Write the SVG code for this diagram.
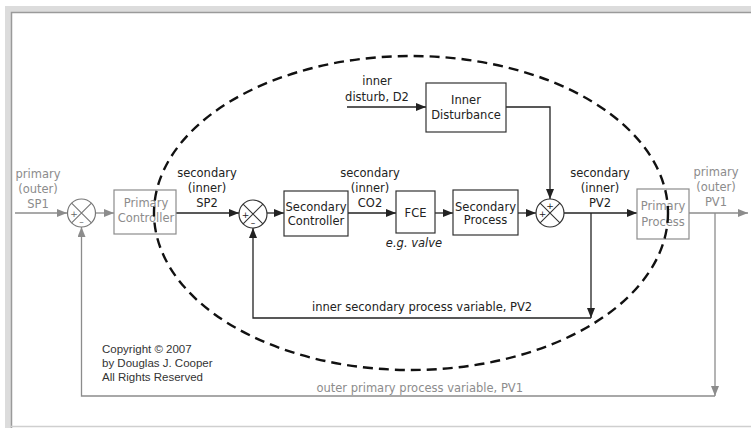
<svg xmlns="http://www.w3.org/2000/svg" width="751" height="428" viewBox="0 0 751 428">
  <style>
    .t { font-family: "DejaVu Sans", Verdana, sans-serif; font-size: 11.5px; fill: #222; text-anchor: middle; }
    .t.start { text-anchor: start; }
    .t.end { text-anchor: end; }
    .g { fill: #8c8c8c; }
    .box { fill: #fff; stroke: #333; stroke-width: 1.2; }
    .gbox { fill: #fff; stroke: #8c8c8c; stroke-width: 1.2; }
    .ln { fill: none; stroke: #222; stroke-width: 1.3; }
    .gln { fill: none; stroke: #8c8c8c; stroke-width: 1.3; }
    .sum { fill: #fff; stroke: #333; stroke-width: 1.2; }
    .gsum { fill: #fff; stroke: #777; stroke-width: 1.2; }
    .sg { font-family: "DejaVu Sans", sans-serif; font-size: 9px; text-anchor: middle; }
    .copy { font-family: "Liberation Sans", Arial, sans-serif; font-size: 11.5px; fill: #333; }
  </style>
  <defs>
    <marker id="ah" viewBox="0 0 10 8" refX="10" refY="4" markerWidth="10" markerHeight="8" markerUnits="userSpaceOnUse" orient="auto">
      <path d="M0,0 L10,4 L0,8 Z" fill="#222"/>
    </marker>
    <marker id="gah" viewBox="0 0 10 8" refX="10" refY="4" markerWidth="10" markerHeight="8" markerUnits="userSpaceOnUse" orient="auto">
      <path d="M0,0 L10,4 L0,8 Z" fill="#8c8c8c"/>
    </marker>
  </defs>

  <!-- window frame -->
  <rect x="0" y="0" width="751" height="428" fill="#fff"/>
  <rect x="5" y="6" width="746" height="6" fill="#dcdcdc"/>
  <rect x="5" y="6" width="6" height="422" fill="#dcdcdc"/>
  <path d="M11.5,428 V12.5 H751" fill="none" stroke="#9a9a9a" stroke-width="1.5"/>
  <line x1="11" y1="426.5" x2="751" y2="426.5" stroke="#cfcfcf" stroke-width="1.5"/>

  <!-- connectors -->
  <g id="connectors">
    <line class="gln" x1="15" y1="213" x2="67" y2="213" marker-end="url(#gah)"/>
    <line class="gln" x1="96" y1="213" x2="114" y2="213" marker-end="url(#gah)"/>
    <line class="ln" x1="176" y1="213" x2="239" y2="213" marker-end="url(#ah)"/>
    <line class="ln" x1="267" y1="213" x2="284" y2="213" marker-end="url(#ah)"/>
    <line class="ln" x1="348" y1="213" x2="396" y2="213" marker-end="url(#ah)"/>
    <line class="ln" x1="435" y1="213" x2="453" y2="213" marker-end="url(#ah)"/>
    <line class="ln" x1="518" y1="213" x2="536" y2="213" marker-end="url(#ah)"/>
    <line class="ln" x1="564" y1="213" x2="637" y2="213" marker-end="url(#ah)"/>
    <line class="gln" x1="689" y1="213" x2="748" y2="213" marker-end="url(#gah)"/>
    <!-- inner disturbance path -->
    <line class="ln" x1="347" y1="107" x2="426" y2="107" marker-end="url(#ah)"/>
    <polyline class="ln" points="506,107 550,107 550,199" marker-end="url(#ah)"/>
    <!-- inner feedback PV2 -->
    <line class="ln" x1="591" y1="213" x2="591" y2="318" marker-end="url(#ah)"/>
    <polyline class="ln" points="591,318 253,318 253,228" marker-end="url(#ah)"/>
    <!-- outer feedback PV1 -->
    <line class="gln" x1="715" y1="213" x2="715" y2="396" marker-end="url(#gah)"/>
    <polyline class="gln" points="715,396 81.5,396 81.5,227" marker-end="url(#gah)"/>
  </g>

  <!-- summing junctions -->
  <g id="sum1">
    <circle class="gsum" cx="81.5" cy="213" r="14"/>
    <path d="M71.6,203.1 L91.4,222.9 M91.4,203.1 L71.6,222.9" stroke="#777" stroke-width="1.1"/>
    <text class="sg" x="74" y="216.5" fill="#666">+</text>
    <text class="sg" x="81.5" y="225" fill="#666">–</text>
  </g>
  <g id="sum2">
    <circle class="sum" cx="253" cy="214" r="14"/>
    <path d="M243.1,204.1 L262.9,223.9 M262.9,204.1 L243.1,223.9" stroke="#333" stroke-width="1.1"/>
    <text class="sg" x="245.5" y="217.5" fill="#222">+</text>
    <text class="sg" x="253" y="226" fill="#222">–</text>
  </g>
  <g id="sum3">
    <circle class="sum" cx="550" cy="213" r="14"/>
    <path d="M540.1,203.1 L559.9,222.9 M559.9,203.1 L540.1,222.9" stroke="#333" stroke-width="1.1"/>
    <text class="sg" x="550" y="208.5" fill="#222">+</text>
    <text class="sg" x="542.5" y="216.5" fill="#222">+</text>
  </g>

  <!-- blocks -->
  <g id="primary-controller">
    <rect class="gbox" x="114" y="190" width="62" height="44"/>
    <text class="t g" x="146" y="207">Primary</text>
    <text class="t g" x="146" y="222">Controller</text>
  </g>
  <g id="secondary-controller">
    <rect class="box" x="284" y="191" width="64" height="45"/>
    <text class="t" x="316" y="211">Secondary</text>
    <text class="t" x="316" y="225">Controller</text>
  </g>
  <g id="fce">
    <rect class="box" x="396" y="191" width="39" height="42"/>
    <text class="t" x="415.5" y="217">FCE</text>
  </g>
  <g id="secondary-process">
    <rect class="box" x="453" y="190" width="65" height="45"/>
    <text class="t" x="485.5" y="211">Secondary</text>
    <text class="t" x="485.5" y="224">Process</text>
  </g>
  <g id="primary-process">
    <rect class="gbox" x="637" y="189" width="52" height="50"/>
    <text class="t g" x="663" y="210">Primary</text>
    <text class="t g" x="663" y="226">Process</text>
  </g>
  <g id="inner-disturbance">
    <rect class="box" x="426" y="83" width="80" height="49"/>
    <text class="t" x="466" y="104">Inner</text>
    <text class="t" x="466" y="119">Disturbance</text>
  </g>

  <!-- signal labels -->
  <g id="labels">
    <text class="t g" x="38" y="178">primary</text>
    <text class="t g" x="38" y="193">(outer)</text>
    <text class="t g" x="38" y="208">SP1</text>
    <text class="t" x="207" y="177">secondary</text>
    <text class="t" x="207" y="192">(inner)</text>
    <text class="t" x="207" y="207">SP2</text>
    <text class="t" x="370" y="177">secondary</text>
    <text class="t" x="370" y="192">(inner)</text>
    <text class="t" x="370" y="207">CO2</text>
    <text class="t" x="600" y="177">secondary</text>
    <text class="t" x="600" y="192">(inner)</text>
    <text class="t" x="600" y="207">PV2</text>
    <text class="t g" x="716" y="176">primary</text>
    <text class="t g" x="716" y="191">(outer)</text>
    <text class="t g" x="716" y="206">PV1</text>
    <text class="t" x="377" y="85">inner</text>
    <text class="t" x="377" y="101">disturb, D2</text>
    <text class="t" x="414" y="247" font-style="italic">e.g. valve</text>
    <text class="t start" x="312" y="311">inner secondary process variable, PV2</text>
    <text class="t g end" x="523" y="392">outer primary process variable, PV1</text>
    <text class="copy" x="102" y="353">Copyright © 2007</text>
    <text class="copy" x="102" y="367">by Douglas J. Cooper</text>
    <text class="copy" x="102" y="381">All Rights Reserved</text>
  </g>

  <!-- inner loop boundary -->
  <ellipse id="inner-loop" cx="411" cy="213" rx="257" ry="157" fill="none" stroke="#111" stroke-width="2.4" stroke-dasharray="10 6"/>
</svg>
